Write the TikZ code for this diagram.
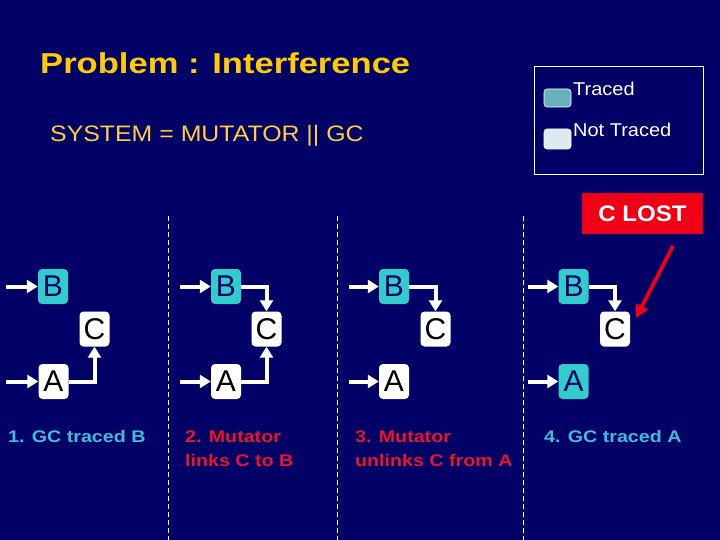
\documentclass[tikz,border=0pt]{standalone}
\usepackage{fontspec}
\setmainfont{Liberation Sans}
\usetikzlibrary{arrows.meta}
\definecolor{navy}{RGB}{0,0,102}
\definecolor{titleyellow}{RGB}{255,204,0}
\definecolor{sysyellow}{RGB}{255,206,60}
\definecolor{cyanbox}{RGB}{51,204,204}
\definecolor{labelblue}{RGB}{60,190,220}
\definecolor{labelred}{RGB}{235,20,40}
\definecolor{lostred}{RGB}{240,0,20}
\definecolor{tracedsw}{RGB}{102,178,187}
\definecolor{untracedsw}{RGB}{220,235,240}
\begin{document}
\begin{tikzpicture}[x=1pt,y=-1pt,
  box/.style={rounded corners=4pt, minimum width=30pt, minimum height=35pt, inner sep=0pt, font=\fontsize{30}{30}\selectfont},
  traced/.style={box, fill=cyanbox, text=navy},
  untraced/.style={box, fill=white, text=black},
  arr/.style={draw=white, line width=4pt, -{Triangle[length=11pt,width=13pt]}},
  redarr/.style={draw=lostred, line width=3.8pt, -{Triangle[length=13pt,width=13pt]}},
  sep/.style={draw=white, line width=1pt, dash pattern=on 5pt off 3pt},
  lbl/.style={anchor=base west, align=left, font=\bfseries\fontsize{16.8}{23.3}\selectfont},
  swatch/.style={rounded corners=3pt, minimum width=27pt, inner sep=0pt}
]
\useasboundingbox[fill=navy] (0,0) rectangle (720,540);

% title and system
\node[anchor=base west, text=titleyellow, inner sep=0pt, font=\bfseries\fontsize{28.8}{30}\selectfont] (title) at (40,73.3) {\scalebox{1.2}[1]{Problem : Interference}};
\node[anchor=base west, text=sysyellow, inner sep=0pt, font=\fontsize{22.4}{24}\selectfont] (sys) at (50,141.7) {\scalebox{1.11}[1]{SYSTEM = MUTATOR || GC}};

% legend
\node[draw=white, line width=0.8pt, minimum width=169pt, minimum height=108pt, inner sep=0pt] (legend) at (618.5,120) {};
\node[swatch, fill=tracedsw, draw=white, line width=0.6pt, minimum height=18pt] (sw1) at (557.5,98) {};
\node[swatch, fill=untracedsw, draw=white, line width=0.6pt, minimum height=20pt] (sw2) at (557.5,139) {};
\node[anchor=base west, text=white, inner sep=0pt, font=\fontsize{18.5}{20}\selectfont] (t1) at (573,95.5) {\scalebox{1.08}[1]{Traced}};
\node[anchor=base west, text=white, inner sep=0pt, font=\fontsize{18.5}{20}\selectfont] (t2) at (573,136.5) {\scalebox{1.08}[1]{Not Traced}};

% C LOST
\node[fill=lostred, minimum width=121pt, minimum height=41pt, inner sep=0pt, text=white, font=\bfseries\fontsize{22.5}{24}\selectfont] (lost) at (642.5,213.5) {\scalebox{1.07}[1]{C LOST}};

% separators
\coordinate (s1t) at (168,216); \coordinate (s1b) at (168,540);
\coordinate (s2t) at (337,216); \coordinate (s2b) at (337,540);
\coordinate (s3t) at (523,216); \coordinate (s3b) at (523,540);
\draw[sep] (s1t) -- (s1b);
\draw[sep] (s2t) -- (s2b);
\draw[sep] (s3t) -- (s3b);

% panel 1
\node[traced] (B1) at (53,286.5) {B};
\node[untraced] (C1) at (94.5,329) {C};
\node[untraced] (A1) at (53.5,381.5) {A};
\coordinate (iB1) at (6,286.5);
\coordinate (iA1) at (6,381.5);
\draw[arr] (iB1) -- (B1.west);
\draw[arr] (iA1) -- (A1.west);
\draw[arr] (A1.east) -| (C1.south);

% panel 2
\node[traced] (B2) at (226,286.5) {B};
\node[untraced] (C2) at (266.5,329) {C};
\node[untraced] (A2) at (226,381.5) {A};
\coordinate (iB2) at (180,286.5);
\coordinate (iA2) at (180,381.5);
\draw[arr] (iB2) -- (B2.west);
\draw[arr] (iA2) -- (A2.west);
\draw[arr] (A2.east) -| (C2.south);
\draw[arr] (B2.east) -| (C2.north);

% panel 3
\node[traced] (B3) at (394,286.5) {B};
\node[untraced] (C3) at (435.5,329) {C};
\node[untraced] (A3) at (394,381.5) {A};
\coordinate (iB3) at (349,286.5);
\coordinate (iA3) at (349,381.5);
\draw[arr] (iB3) -- (B3.west);
\draw[arr] (iA3) -- (A3.west);
\draw[arr] (B3.east) -| (C3.north);

% panel 4
\node[traced] (B4) at (573.5,286.5) {B};
\node[untraced] (C4) at (615,329) {C};
\node[traced] (A4) at (573.5,381.5) {A};
\coordinate (iB4) at (528,286.5);
\coordinate (iA4) at (528,381.5);
\draw[arr] (iB4) -- (B4.west);
\draw[arr] (iA4) -- (A4.west);
\draw[arr] (B4.east) -| (C4.north);
\coordinate (rs) at (673,246);
\coordinate (rt) at (636,318);
\draw[redarr] (rs) -- (rt);

% labels (base anchor = baseline of last line)
\node[lbl, text=labelblue, inner sep=0pt] (L1) at (8,442.7) {\scalebox{1.17}[1]{1. GC traced B}};
\node[lbl, text=labelred, inner sep=0pt] (L2) at (185,466) {\scalebox{1.17}[1]{2. Mutator}\\\scalebox{1.17}[1]{links C to B}};
\node[lbl, text=labelred, inner sep=0pt] (L3) at (355,466) {\scalebox{1.17}[1]{3. Mutator}\\\scalebox{1.17}[1]{unlinks C from A}};
\node[lbl, text=labelblue, inner sep=0pt] (L4) at (544,442.7) {\scalebox{1.17}[1]{4. GC traced A}};
\end{tikzpicture}
\end{document}
